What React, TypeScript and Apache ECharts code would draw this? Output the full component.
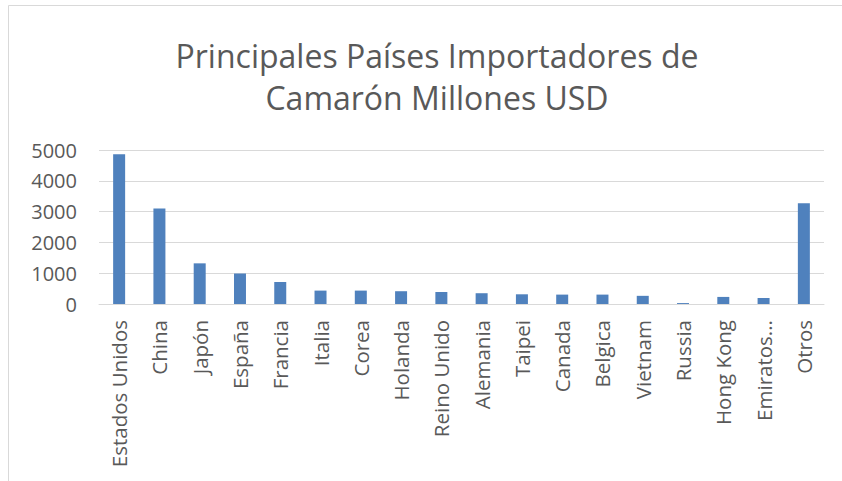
import React, { useEffect, useRef } from "react";
import * as echarts from "echarts";

const categories = [
  "Estados Unidos", "China", "Japón", "España", "Francia", "Italia", "Corea", "Holanda",
  "Reino Unido", "Alemania", "Taipei", "Canada", "Belgica", "Vietnam", "Russia", "Hong Kong",
  "Emiratos...", "Otros",
];
const values = [4860, 3100, 1320, 990, 715, 435, 435, 415, 390, 350, 315, 305, 305, 265, 30, 230, 195, 3270];
const yTicks = { min: 0, max: 5000, interval: 1000 };
const titleText = "Principales Países Importadores de\nCamarón Millones USD";

export default function App() {
  const ref = useRef<HTMLDivElement>(null);
  useEffect(() => {
    const chart = echarts.init(ref.current!, null, { renderer: "svg" });
    const font = "'Open Sans', sans-serif";
    chart.setOption({
      animation: false,
      backgroundColor: "#ffffff",
      title: {
        text: titleText,
        left: 432,
        top: 29,
        textAlign: "center",
        textStyle: { fontFamily: font, fontSize: 32, fontWeight: "normal", color: "#595959", lineHeight: 42 },
      },
      graphic: [
        {
          type: "rect",
          shape: { x: 8.5, y: 5.5, width: 900, height: 600 },
          style: { fill: "none", stroke: "#d9d9d9", lineWidth: 1 },
          silent: true,
        },
      ],
      grid: { left: 99, right: 18, top: 150, bottom: 177, containLabel: false },
      xAxis: {
        type: "category",
        data: categories,
        axisLine: { show: true, lineStyle: { color: "#d9d9d9", width: 1 } },
        axisTick: { show: false },
        axisLabel: { rotate: 90, interval: 0, margin: 16, color: "#595959", fontFamily: font, fontSize: 20.5 },
      },
      yAxis: {
        type: "value",
        min: yTicks.min,
        max: yTicks.max,
        interval: yTicks.interval,
        axisLine: { show: false },
        axisTick: { show: false },
        splitLine: { lineStyle: { color: "#d9d9d9", width: 1 } },
        axisLabel: {
          margin: 22,
          color: "#595959",
          fontFamily: font,
          fontSize: 20,
          formatter: (v: number) => String(v),
        },
      },
      series: [
        {
          type: "bar",
          data: values,
          barWidth: 12,
          itemStyle: { color: "#4f81bd" },
        },
      ],
    });
    return () => chart.dispose();
  }, []);
  return <div ref={ref} style={{ position: "fixed", left: 0, top: 0, width: 842, height: 481 }} />;
}
